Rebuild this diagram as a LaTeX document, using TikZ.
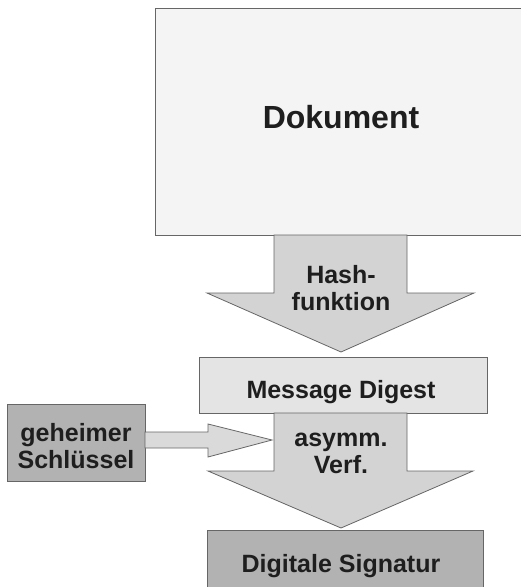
\documentclass[tikz,border=0pt]{standalone}
\usepackage{fontspec}
\setmainfont{Liberation Sans}
\definecolor{edgec}{HTML}{666666}
\definecolor{txtc}{HTML}{1E1E1E}
\definecolor{docfill}{HTML}{F4F4F4}
\definecolor{arrfill}{HTML}{D3D3D3}
\definecolor{mdfill}{HTML}{E4E4E4}
\definecolor{darkfill}{HTML}{B2B2B2}
\definecolor{keyarr}{HTML}{DADADA}
\begin{document}
\begin{tikzpicture}[x=1pt,y=-1pt,
  shapeline/.style={draw=edgec, line width=0.8pt, line join=miter},
  lbl/.style={font=\bfseries\fontsize{25}{27}\selectfont, text=txtc, align=center, anchor=base, inner sep=0pt},
  biglbl/.style={lbl, font=\bfseries\fontsize{32}{34}\selectfont}]
\useasboundingbox (0,0) rectangle (521,587);
% Dokument
\draw[shapeline, fill=docfill] (155,8) rectangle (527,235);
\node[biglbl] (dok) at (341,128) {Dokument};
% Hash arrow
\draw[shapeline, fill=arrfill] (274,235) -- (274,293) -- (207,293) -- (341,352) -- (474,293) -- (407,293) -- (407,235) -- cycle;
\node[lbl] (hash) at (341,310) {Hash-\\funktion};
% Message Digest
\draw[shapeline, fill=mdfill] (199,357) rectangle (487,413);
\node[lbl] (md) at (341,398) {Message Digest};
% asymm arrow
\draw[shapeline, fill=arrfill] (274,413) -- (274,471) -- (208,471) -- (341,528) -- (473,471) -- (407,471) -- (407,413) -- cycle;
\node[lbl] (asym) at (341,473) {asymm.\\Verf.};
% geheimer Schluessel
\draw[shapeline, fill=darkfill] (7,404) rectangle (145,481);
\node[lbl] (key) at (76,468) {geheimer\\Schlüssel};
% key arrow
\draw[shapeline, fill=keyarr] (145,432) -- (208,432) -- (208,424) -- (272,440) -- (208,457) -- (208,448) -- (145,448) -- cycle;
% Digitale Signatur
\draw[shapeline, fill=darkfill] (207,530) rectangle (483,592);
\node[lbl] (sig) at (341,572) {Digitale Signatur};
\end{tikzpicture}
\end{document}
